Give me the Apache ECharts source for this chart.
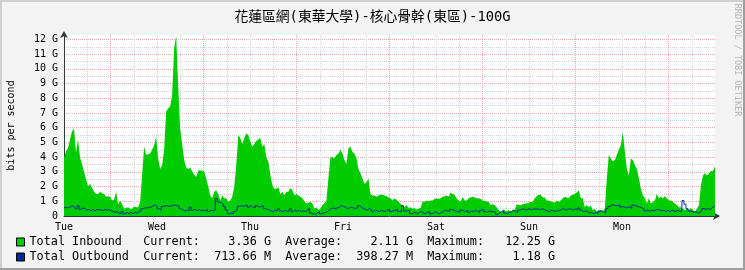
<!DOCTYPE html>
<html>
<head>
<meta charset="utf-8">
<script src="https://cdn.jsdelivr.net/npm/echarts@6/dist/echarts.min.js"></script>
<style>
html,body{margin:0;padding:0;background:#f3f3f3;}
#c{width:745px;height:270px;}
</style>
</head>
<body>
<div id="c"></div>
<script>
// ---- data (bits per second, in G), sampled evenly across one week ----
const titleText = '花蓮區網(東華大學)-核心骨幹(東區)-100G';
const dayLabels = ['Tue', 'Wed', 'Thu', 'Fri', 'Sat', 'Sun', 'Mon'];
const yLabels = ['0', '1 G', '2 G', '3 G', '4 G', '5 G', '6 G', '7 G', '8 G', '9 G', '10 G', '11 G', '12 G'];
const seriesNames = ['Total Inbound', 'Total Outbound'];
const curText = ['3.36 G', '713.66 M'];
const avgText = ['2.11 G', '398.27 M'];
const maxText = ['12.25 G', '1.18 G'];

const inbound = [
 3.9, 4.4, 4.6, 5.2, 5.75, 5.95, 4.3, 5.2, 4.0, 3.5,
 3.0, 2.5, 2.0, 2.2, 1.9, 1.65, 1.5, 1.5, 1.65, 1.55,
 1.5, 1.3, 1.35, 1.3, 1.05, 1.1, 1.65, 0.8, 1.05, 0.8,
 0.5, 0.55, 0.6, 0.5, 0.5, 0.65, 0.6, 0.6, 0.95, 2.8,
 4.7, 4.15, 4.2, 4.25, 4.5, 4.8, 5.4, 3.9, 3.2, 3.45,
 4.5, 7.1, 7.3, 7.45, 8.2, 11.4, 12.25, 8.8, 5.9, 4.9,
 3.8, 3.3, 3.2, 3.3, 3.0, 2.8, 2.65, 3.1, 3.1, 3.1,
 3.0, 2.55, 2.0, 1.4, 1.2, 1.65, 1.75, 1.5, 1.05, 1.4,
 1.2, 1.2, 0.95, 1.05, 1.3, 2.0, 3.45, 5.5, 5.3, 4.9,
 5.3, 5.6, 5.5, 5.05, 4.7, 4.9, 5.1, 5.2, 5.3, 4.7,
 4.9, 4.0, 3.7, 2.8, 2.1, 1.85, 1.85, 1.95, 1.5, 1.65,
 1.4, 1.65, 1.65, 1.9, 1.75, 1.4, 1.5, 1.4, 1.3, 1.2,
 1.0, 0.85, 0.9, 0.95, 0.85, 0.5, 0.6, 0.4, 0.5, 0.75,
 0.85, 1.05, 2.55, 4.0, 4.0, 3.9, 4.15, 4.25, 4.5, 4.25,
 3.8, 3.55, 4.6, 4.7, 4.35, 4.25, 3.9, 3.2, 2.9, 2.55,
 2.2, 2.3, 2.55, 1.5, 1.4, 1.4, 1.3, 1.4, 1.45, 1.45,
 1.4, 1.35, 1.25, 1.2, 1.05, 1.2, 1.1, 0.95, 0.85, 0.7,
 0.6, 0.75, 0.55, 0.6, 0.5, 0.55, 0.45, 0.5, 0.55, 1.0,
 0.95, 1.05, 1.0, 1.05, 1.05, 1.15, 1.2, 1.15, 1.2, 1.3,
 1.35, 1.4, 1.3, 1.6, 1.5, 1.45, 1.2, 1.05, 0.95, 1.3,
 1.05, 1.05, 1.2, 1.25, 1.3, 1.25, 1.2, 1.2, 1.15, 1.05,
 1.0, 1.0, 0.95, 0.75, 0.8, 0.75, 0.6, 0.4, 0.3, 0.3,
 0.4, 0.3, 0.4, 0.3, 0.4, 0.4, 0.8, 0.75, 0.75, 0.8,
 0.85, 0.85, 0.9, 0.95, 0.95, 1.2, 1.35, 1.45, 1.45, 1.25,
 1.25, 1.05, 1.05, 1.0, 0.95, 0.9, 1.05, 0.95, 1.05, 1.2,
 1.3, 1.25, 1.2, 1.4, 1.45, 1.5, 1.6, 1.75, 1.2, 1.2,
 0.6, 0.75, 0.6, 0.7, 0.4, 0.5, 0.3, 0.4, 0.4, 0.3,
 0.5, 2.55, 4.15, 3.9, 3.7, 3.8, 4.15, 4.5, 4.8, 5.7,
 4.35, 3.2, 2.75, 3.9, 3.8, 3.45, 3.2, 2.55, 1.85, 1.4,
 1.2, 0.85, 1.2, 0.85, 0.95, 1.05, 1.5, 1.2, 1.3, 1.2,
 1.35, 1.2, 1.05, 1.05, 0.95, 0.85, 0.75, 0.6, 0.6, 0.5,
 0.4, 0.5, 0.4, 0.55, 0.4, 0.3, 0.5, 0.75, 2.1, 2.75,
 2.9, 2.75, 2.9, 3.05, 3.05, 3.36
];

const outbound = [
 0.55, 0.6, 0.55, 0.6, 0.7, 0.65, 0.5, 0.7, 0.45, 0.55,
 0.5, 0.4, 0.45, 0.35, 0.45, 0.35, 0.45, 0.4, 0.45, 0.35,
 0.45, 0.4, 0.45, 0.35, 0.3, 0.25, 0.3, 0.2, 0.15, 0.3,
 0.15, 0.25, 0.15, 0.25, 0.15, 0.25, 0.2, 0.3, 0.35, 0.5,
 0.55, 0.55, 0.6, 0.6, 0.7, 0.75, 0.65, 0.5, 0.4, 0.65,
 0.7, 0.7, 0.65, 0.7, 0.7, 0.75, 0.7, 0.65, 0.5, 0.4,
 0.35, 0.4, 0.35, 0.6, 0.4, 0.45, 0.35, 0.45, 0.35, 0.4,
 0.35, 0.45, 0.3, 0.4, 0.35, 0.4, 1.18, 0.95, 0.9, 0.8,
 0.65, 0.4, 0.15, 0.2, 0.15, 0.3, 0.4, 0.65, 0.7, 0.65,
 0.7, 0.75, 0.6, 0.7, 0.6, 0.55, 0.7, 0.6, 0.65, 0.7,
 0.5, 0.45, 0.4, 0.35, 0.3, 0.4, 0.35, 0.5, 0.35, 0.3,
 0.4, 0.3, 0.35, 0.5, 0.3, 0.4, 0.3, 0.4, 0.3, 0.35,
 0.3, 0.4, 0.5, 0.2, 0.15, 0.1, 0.2, 0.3, 0.15, 0.2,
 0.25, 0.3, 0.4, 0.5, 0.55, 0.5, 0.55, 0.6, 0.7, 0.65,
 0.6, 0.5, 0.55, 0.6, 0.55, 0.5, 0.55, 0.7, 0.6, 0.5,
 0.45, 0.4, 0.5, 0.45, 0.3, 0.4, 0.35, 0.3, 0.4, 0.35,
 0.3, 0.4, 0.45, 0.3, 0.35, 0.4, 0.45, 0.3, 0.3, 0.7,
 0.35, 0.35, 0.4, 0.15, 0.2, 0.25, 0.15, 0.25, 0.3, 0.2,
 0.15, 0.25, 0.3, 0.15, 0.2, 0.3, 0.2, 0.15, 0.25, 0.3,
 0.4, 0.35, 0.3, 0.45, 0.4, 0.35, 0.3, 0.25, 0.4, 0.35,
 0.3, 0.4, 0.25, 0.35, 0.3, 0.4, 0.3, 0.25, 0.4, 0.45,
 0.3, 0.25, 0.35, 0.3, 0.3, 0.25, 0.1, 0.2, 0.3, 0.4,
 0.2, 0.15, 0.25, 0.3, 0.4, 0.3, 0.25, 0.4, 0.45, 0.5,
 0.4, 0.45, 0.5, 0.4, 0.5, 0.45, 0.5, 0.4, 0.5, 0.45,
 0.4, 0.35, 0.3, 0.4, 0.35, 0.3, 0.4, 0.35, 0.45, 0.5,
 0.4, 0.45, 0.5, 0.45, 0.4, 0.5, 0.4, 0.55, 0.4, 0.3,
 0.35, 0.3, 0.2, 0.25, 0.15, 0.25, 0.15, 0.3, 0.35, 0.3,
 0.2, 0.5, 0.65, 0.75, 0.75, 0.7, 0.7, 0.75, 0.6, 0.65,
 0.55, 0.6, 0.6, 0.5, 0.75, 0.7, 0.65, 0.6, 0.55, 0.5,
 0.35, 0.4, 0.3, 0.4, 0.35, 0.4, 0.45, 0.4, 0.35, 0.4,
 0.3, 0.4, 0.3, 0.4, 0.35, 0.3, 0.4, 0.3, 0.35, 1.05,
 0.8, 0.5, 0.35, 0.3, 0.25, 0.3, 0.2, 0.25, 0.35, 0.5,
 0.45, 0.5, 0.45, 0.55, 0.65, 0.71
];

// ---- chart ----
const MONO = "'DejaVu Sans Mono', 'Noto Sans CJK TC', monospace";
const HOURS = 168;
const stepH = HOURS / (inbound.length - 1);
const toPairs = arr => arr.map((v, i) => [i * stepH, v]);

const GRID_GRAY = '#d4d4d4';
const GRID_RED = '#f0a4a4';
const AXIS = '#2c3b36';

function legendLine(i) {
  return seriesNames[i].padEnd(16) + 'Current:' + curText[i].padStart(10) +
    '  Average:' + avgText[i].padStart(10) + '  Maximum:' + maxText[i].padStart(10);
}

const chart = echarts.init(document.getElementById('c'), null, {renderer: 'canvas'});
chart.setOption({
  backgroundColor: '#f3f3f3',
  animation: false,
  title: {
    text: titleText, left: 'center', top: 6,
    textStyle: {fontFamily: MONO, fontSize: 13.8, fontWeight: 'normal', color: '#000'}
  },
  grid: {left: 64, right: 30, top: 35, bottom: 54, show: true, backgroundColor: '#fff', borderWidth: 0,
         containLabel: false, outerBoundsMode: 'none'},
  xAxis: {
    type: 'value', min: 0, max: HOURS, interval: 6,
    axisLine: {show: true, lineStyle: {color: AXIS, width: 1}, symbol: ['none', 'arrow'], symbolSize: [6, 7], symbolOffset: [0, 5]},
    axisTick: {show: false},
    axisLabel: {
      formatter: v => (v % 24 === 0 && v < HOURS) ? dayLabels[v / 24] : '',
      fontFamily: MONO, fontSize: 10, color: '#000', margin: 6, showMaxLabel: false
    },
    splitLine: {show: true, showMaxLine: false, lineStyle: {color: [GRID_GRAY, GRID_GRAY, GRID_RED, GRID_GRAY], type: [1, 1], width: 1}}
  },
  yAxis: {
    type: 'value', min: 0, max: 12.3, interval: 0.5,
    name: 'bits per second', nameLocation: 'middle', nameGap: 48, nameRotate: 90,
    nameTextStyle: {fontFamily: MONO, fontSize: 10, color: '#000'},
    axisLine: {show: true, lineStyle: {color: AXIS, width: 1}, symbol: ['none', 'arrow'], symbolSize: [6, 7], symbolOffset: [0, 4]},
    axisTick: {show: false},
    axisLabel: {
      formatter: v => Number.isInteger(v) ? yLabels[v] : '',
      fontFamily: MONO, fontSize: 10, color: '#000', margin: 6
    },
    splitLine: {show: true, showMaxLine: false, lineStyle: {color: [GRID_RED, GRID_GRAY], type: [1, 1], width: 1}}
  },
  legend: {
    orient: 'vertical', left: 16, top: 235, height: 40, padding: 0, itemWidth: 8, itemHeight: 8, itemGap: 1,
    icon: 'rect', selectedMode: false,
    itemStyle: {borderColor: '#000', borderWidth: 1},
    textStyle: {fontFamily: MONO, fontSize: 11.8, color: '#000', lineHeight: 14},
    formatter: name => legendLine(seriesNames.indexOf(name)),
    data: seriesNames
  },
  series: [
    {
      name: seriesNames[0], type: 'line', data: toPairs(inbound), showSymbol: false, symbol: 'none',
      color: '#00cc00', lineStyle: {width: 0}, areaStyle: {color: '#00cc00', opacity: 1}, z: 2
    },
    {
      name: seriesNames[1], type: 'line', data: toPairs(outbound), showSymbol: false, symbol: 'none', step: 'middle',
      color: '#002a97', lineStyle: {width: 1, color: '#002a97'}, z: 3
    }
  ],
  graphic: [
    {type: 'text', x: 737, y: 60, rotation: -Math.PI / 2,
     style: {text: 'RRDTOOL / TOBI OETIKER', font: "8.5px 'DejaVu Sans Mono', monospace", fill: '#b4b4b4', align: 'center', verticalAlign: 'middle'}},
    {type: 'rect', shape: {x: 0, y: 0, width: 745, height: 2}, style: {fill: '#cfcfcf'}, silent: true},
    {type: 'rect', shape: {x: 0, y: 0, width: 2, height: 270}, style: {fill: '#cfcfcf'}, silent: true},
    {type: 'rect', shape: {x: 743, y: 0, width: 2, height: 270}, style: {fill: '#9e9e9e'}, silent: true},
    {type: 'rect', shape: {x: 0, y: 268, width: 745, height: 2}, style: {fill: '#9e9e9e'}, silent: true}
  ]
});
</script>
</body>
</html>
